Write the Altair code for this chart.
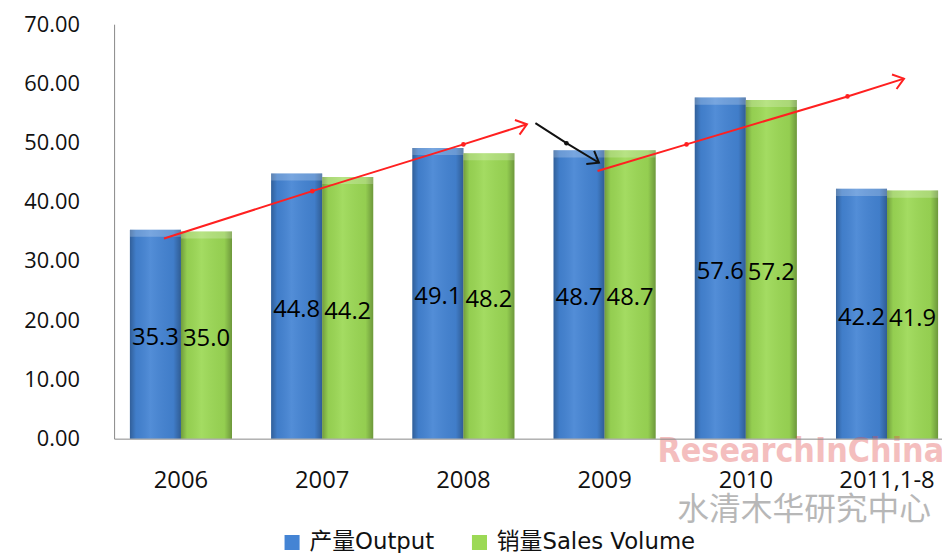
import altair as alt
import numpy as np
import pandas as pd

# ---------------- data ----------------
years = ["2006", "2007", "2008", "2009", "2010", "2011,1-8"]
series_names = ["产量Output", "销量Sales Volume"]
output_vals = [35.3, 44.8, 49.1, 48.7, 57.6, 42.2]
sales_vals = [35.0, 44.2, 48.2, 48.7, 57.2, 41.9]
series_colors = ["#4484D4", "#9CD955"]

# trend arrows, in units of category index (2006 = 0) and value
arrow_id = ["a1", "a1", "a1", "a1", "a2", "a2", "a2", "a2", "b", "b", "b"]
arrow_x = [-0.12, 0.93, 2.0, 2.45, 2.95, 3.58, 4.72, 5.12, 2.51, 2.73, 2.96]
arrow_y = [33.8, 41.8, 49.7, 53.1, 45.2, 49.7, 57.8, 60.8, 53.3, 49.9, 46.6]
arrow_col = ["#FF2020"] * 8 + ["#111111"] * 3

# ---------------- layout constants ----------------
W_RANGE = 847
PAD_IN = 0.277
PAD_OUT = 0.112
PLOT_H = 418
Y_MAX = 70
step = W_RANGE / (len(years) - PAD_IN + 2 * PAD_OUT)
first_center = PAD_OUT * step + (1 - PAD_IN) * step / 2
ann_domain = [-first_center / step, (W_RANGE - first_center) / step]

rows = []
for y, o, s in zip(years, output_vals, sales_vals):
    rows.append({"year": y, "series": series_names[0], "value": o})
    rows.append({"year": y, "series": series_names[1], "value": s})
df = pd.DataFrame(rows)

arr = pd.DataFrame({"id": arrow_id, "x": arrow_x, "y": arrow_y, "col": arrow_col})

# arrow heads: last point of each arrow, direction from previous point
heads = []
for gid in ["a1", "a2", "b"]:
    g = arr[arr.id == gid]
    x0, y0 = g.x.iloc[-2], g.y.iloc[-2]
    x1, y1 = g.x.iloc[-1], g.y.iloc[-1]
    dx = (x1 - x0) * step
    dy = -(y1 - y0) * PLOT_H / Y_MAX
    ang = float(np.degrees(np.arctan2(dy, dx))) % 360
    heads.append({"x": x1, "y": y1, "col": g.col.iloc[-1], "ang": ang})
heads = pd.DataFrame(heads)
dots = pd.concat([arr[arr.id == g].iloc[1:-1] for g in ["a1", "a2", "b"]]).reset_index(drop=True)

FONT = "Open Sans"

x_enc = alt.X(
    "year:N", sort=years, title=None,
    scale=alt.Scale(range=[0, W_RANGE], paddingInner=PAD_IN, paddingOuter=PAD_OUT),
    axis=alt.Axis(orient="bottom", labelAngle=0, ticks=False, domainColor="#888888",
                  labelFontSize=24, labelFont=FONT, labelColor="#111111",
                  labelPadding=30, zindex=1, grid=False),
)
xo_enc = alt.XOffset("series:N", sort=series_names, scale=alt.Scale(paddingInner=0, paddingOuter=0))
y_scale = alt.Scale(domain=[0, Y_MAX], nice=False)
y_axis = alt.Axis(values=list(range(0, 71, 10)), format=".2f", ticks=False, grid=False,
                  domainColor="#888888", labelFontSize=22, labelFont=FONT,
                  labelColor="#111111", labelPadding=35)
y_enc = alt.Y("value:Q", title=None, scale=y_scale, axis=y_axis)

base = alt.Chart(df)

bars = base.mark_bar().encode(
    x=x_enc, xOffset=xo_enc, y=y_enc,
    color=alt.Color("series:N", sort=series_names,
                    scale=alt.Scale(domain=series_names, range=series_colors),
                    legend=alt.Legend(title=None, orient="none", legendX=168, legendY=511,
                                      direction="horizontal", symbolType="square",
                                      symbolSize=230, labelFontSize=23,
                                      labelFont="DejaVu Sans, Noto Sans CJK SC",
                                      labelColor="#111111", columnPadding=34,
                                      labelLimit=400, symbolStrokeWidth=0, labelOffset=6)),
)

shade = base.mark_bar(
    color=alt.Gradient(
        gradient="linear", x1=0, x2=1, y1=0, y2=0,
        stops=[
            alt.GradientStop(color="rgba(0,0,0,0.28)", offset=0),
            alt.GradientStop(color="rgba(0,0,0,0.05)", offset=0.12),
            alt.GradientStop(color="rgba(255,255,255,0.08)", offset=0.4),
            alt.GradientStop(color="rgba(0,0,0,0.05)", offset=0.85),
            alt.GradientStop(color="rgba(0,0,0,0.3)", offset=1),
        ],
    )
).encode(x=x_enc, xOffset=xo_enc, y=alt.Y("value:Q", title=None, scale=y_scale, axis=y_axis))

cap = base.transform_calculate(top="datum.value - 1.2").mark_bar(
    color="white", opacity=0.22
).encode(x=x_enc, xOffset=xo_enc,
         y=alt.Y("value:Q", title=None, scale=y_scale, axis=y_axis), y2="top:Q")

labels = base.transform_calculate(mid="datum.value / 2").mark_text(
    fontSize=24, font=FONT, color="#000000", dy=4
).encode(
    x=x_enc, xOffset=xo_enc,
    y=alt.Y("mid:Q", title=None, scale=y_scale, axis=y_axis),
    text=alt.Text("value:Q", format=".1f"),
)

bar_layer = alt.layer(bars, shade, cap, labels)

wm_df = pd.DataFrame({"t": ["ResearchInChina"]})
wm = alt.Chart(wm_df).mark_text(
    font="Liberation Sans Narrow, DejaVu Sans Condensed, Liberation Sans, sans-serif",
    fontWeight="bold", fontSize=34, color="#E04848", opacity=0.35,
    align="left", baseline="alphabetic",
).encode(x=alt.value(548), y=alt.value(442), text="t:N")

wm2_df = pd.DataFrame({"t": ["水清木华研究中心"]})
wm2 = alt.Chart(wm2_df).mark_text(
    font="Noto Sans CJK SC", fontSize=32, color="#9A9A9A", opacity=0.7,
    align="left", baseline="middle",
).encode(x=alt.value(568), y=alt.value(490), text="t:N")

ax_scale = alt.Scale(domain=ann_domain, range=[0, W_RANGE], nice=False, zero=False)
ann_x = alt.X("x:Q", scale=ax_scale, axis=None)
ann_y = alt.Y("y:Q", title=None, scale=y_scale, axis=y_axis)
lines = alt.Chart(arr).mark_line(strokeWidth=2).encode(
    x=ann_x, y=ann_y, detail="id:N", color=alt.Color("col:N", scale=None),
)
dot_marks = alt.Chart(dots).mark_circle(size=22, opacity=1).encode(
    x=ann_x, y=ann_y, color=alt.Color("col:N", scale=None),
)
head_marks = alt.Chart(heads).mark_point(
    shape="M-1,-0.75L0,0L-1,0.75", filled=False, strokeWidth=2, size=420, opacity=1
).encode(
    x=ann_x, y=ann_y,
    angle=alt.Angle("ang:Q", scale=None),
    stroke=alt.Color("col:N", scale=None),
)
ann = alt.layer(lines, dot_marks, head_marks)

chart = alt.layer(bar_layer, wm, wm2, ann).resolve_scale(
    x="independent"
).properties(
    width=835, height=PLOT_H, autosize="none", background="white",
    padding={"left": 107, "top": 14, "right": 0, "bottom": 113},
).configure_view(
    stroke="transparent", strokeWidth=0
).configure_axis(
    grid=False
)

chart.save("out.html", embed_options={"renderer": "svg", "actions": False})
